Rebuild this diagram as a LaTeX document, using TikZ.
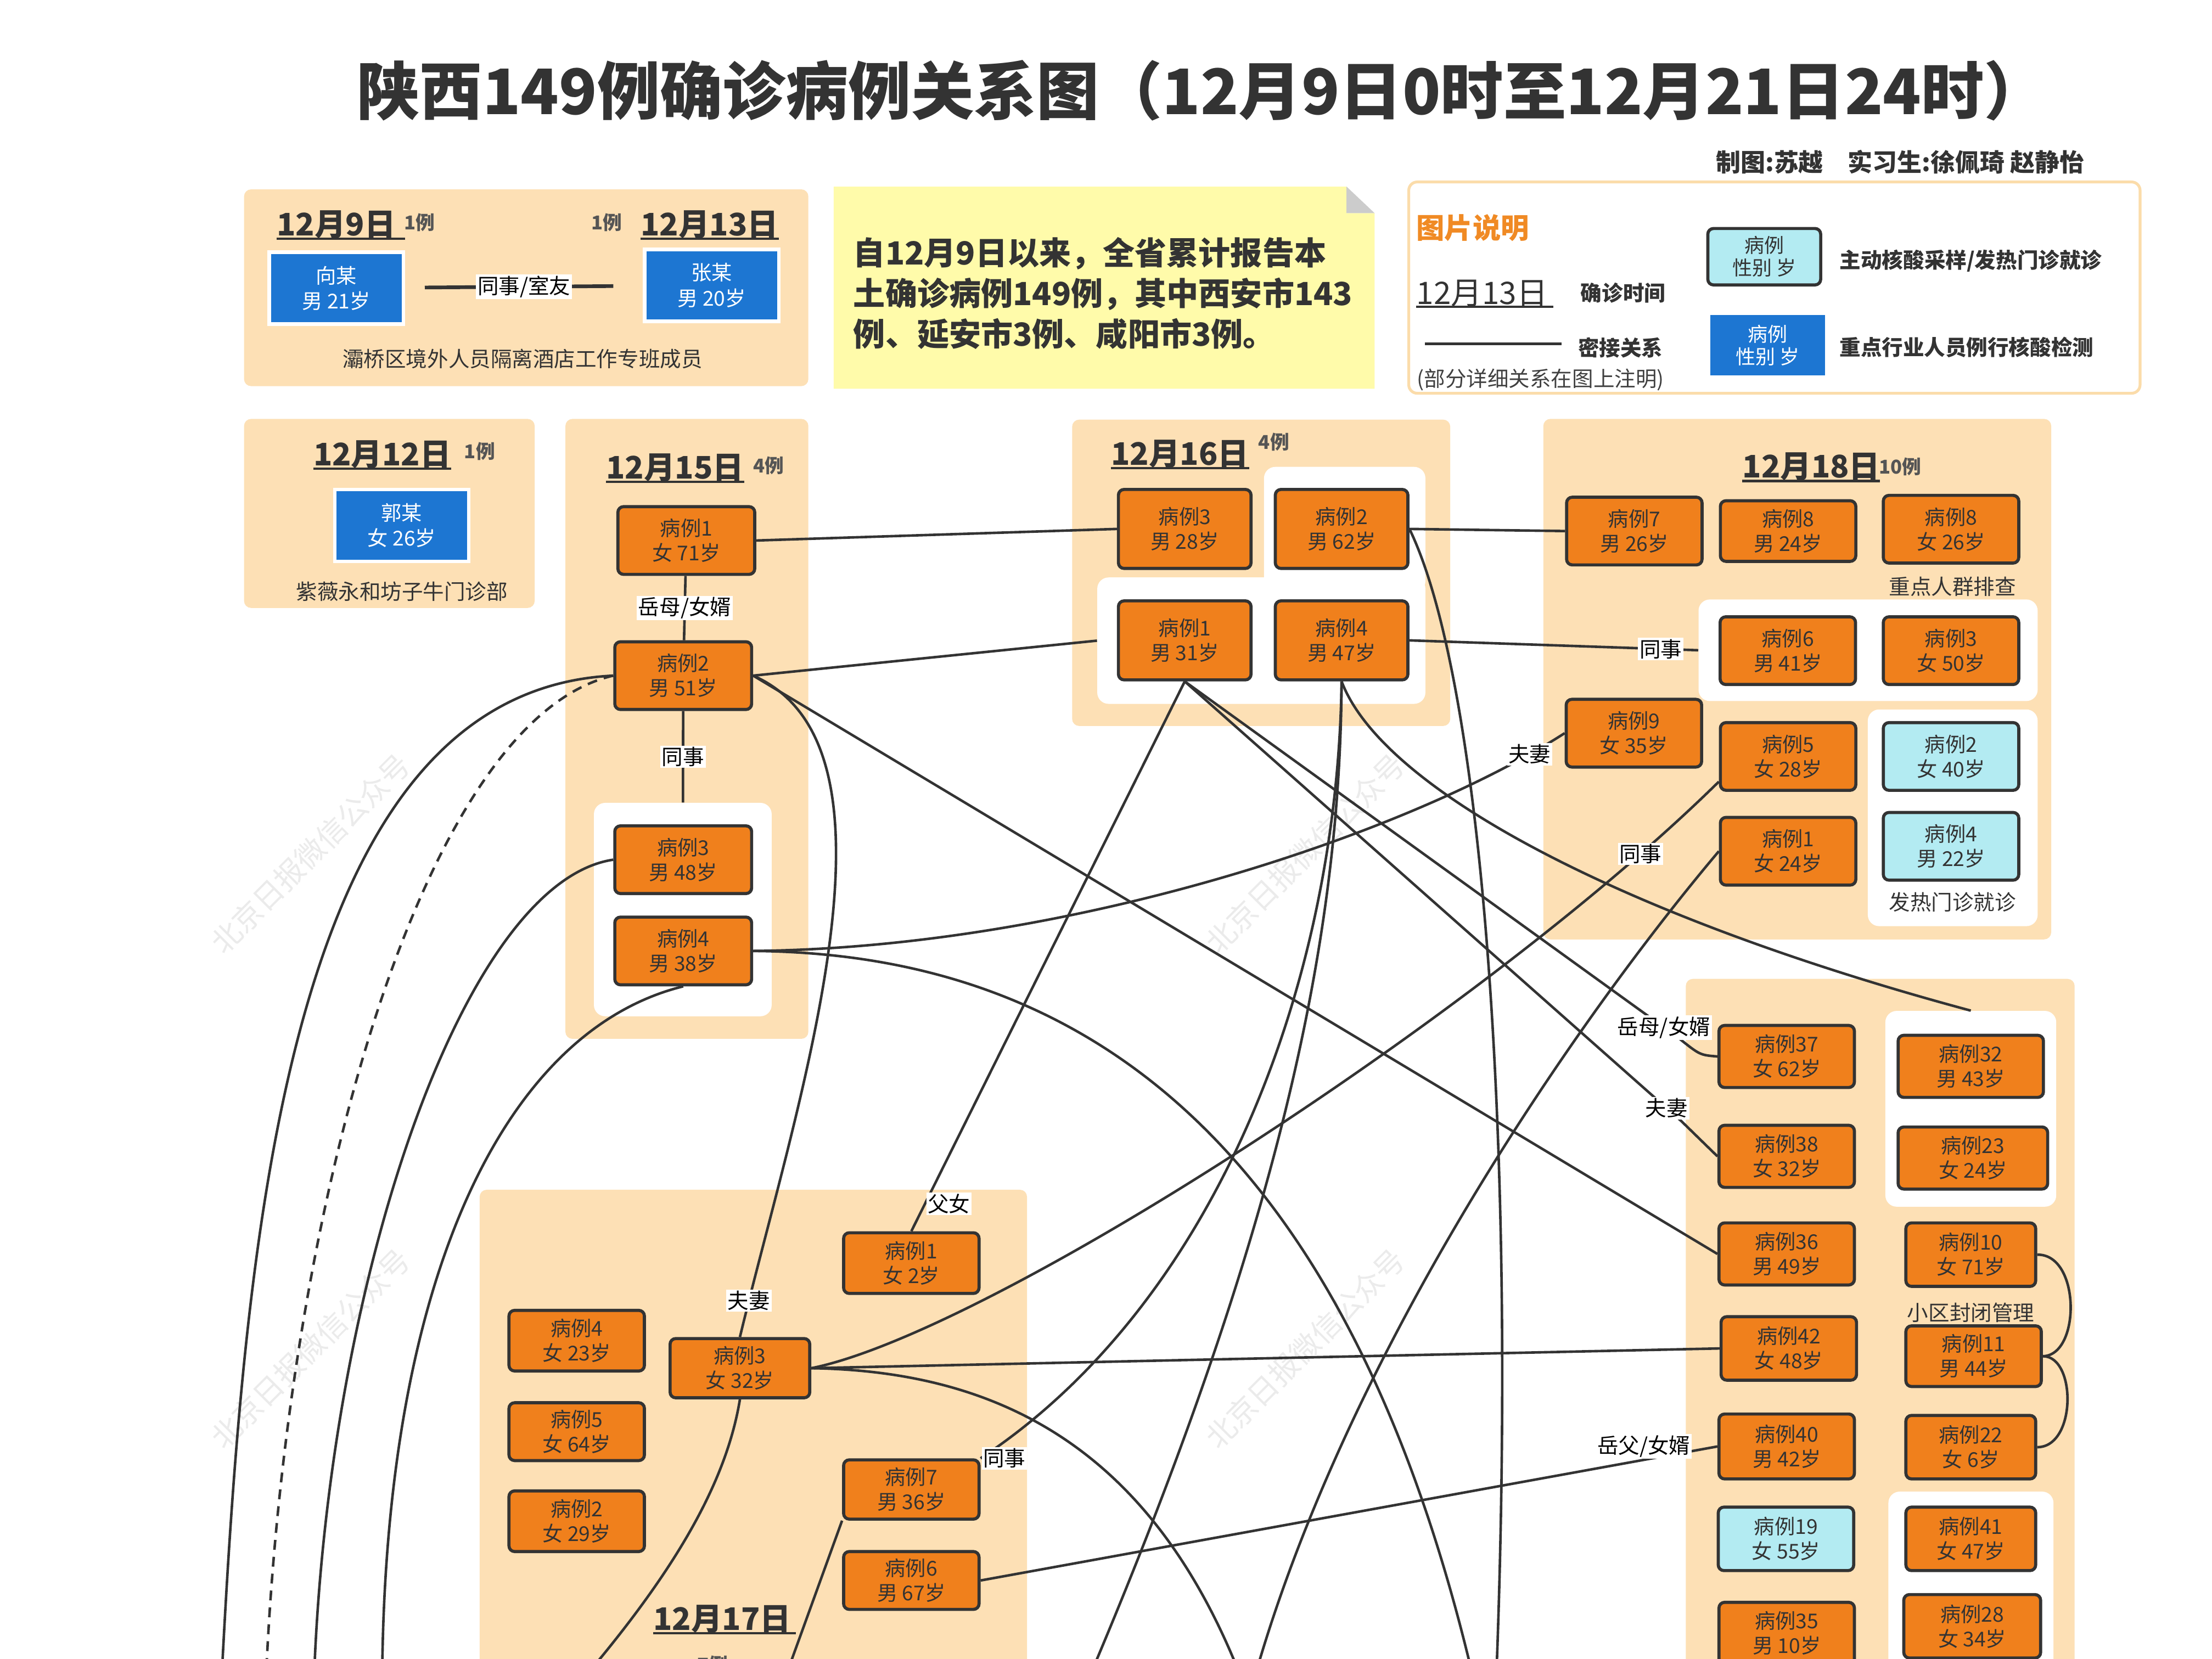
\documentclass[tikz,border=0pt]{standalone}
\usepackage{fontspec}
\setmainfont{Noto Sans CJK SC}
\usepackage{tikz}
\usepackage{xcolor}
\usetikzlibrary{calc}

\definecolor{peach}{HTML}{FDE0B5}
\definecolor{caseor}{HTML}{F0801C}
\definecolor{casecy}{HTML}{B3EBF2}
\definecolor{keyblue}{HTML}{1D76D2}
\definecolor{linec}{HTML}{333333}
\definecolor{notey}{HTML}{FFFBAA}
\definecolor{legendc}{HTML}{FBDCAA}
\definecolor{titleor}{HTML}{F08A24}
\definecolor{foldc}{HTML}{CCCCCC}
\definecolor{countc}{HTML}{555555}

\begin{document}
\begin{tikzpicture}[x=1pt, y=-1pt,
    case/.style={draw=linec, line width=2.2pt, fill=caseor, rounded corners=4pt,
      minimum width=96pt, minimum height=46pt, inner sep=0pt, align=center,
      text=linec, font=\fontsize{14.5}{17.5}\selectfont},
    fever/.style={case, fill=casecy},
    key/.style={draw=white, line width=2.5pt, fill=keyblue, minimum width=95pt,
      minimum height=51pt, inner sep=0pt, align=center, text=white,
      font=\fontsize{14.5}{18}\selectfont},
    group/.style={fill=peach, rounded corners=5pt, inner sep=0pt},
    inner/.style={fill=white, rounded corners=8pt, inner sep=0pt},
    datehd/.style={anchor=south west, inner sep=0pt, text=linec,
      font=\fontsize{22}{22}\selectfont\bfseries},
    uline/.style={line width=1.6pt, draw=linec},
    tally/.style={text=countc, font=\fontsize{13.5}{14}\selectfont\bfseries},
    capt/.style={text=linec, font=\fontsize{15}{15}\selectfont},
    keytxt/.style={text=linec, font=\fontsize{15}{15}\selectfont\bfseries},
    link/.style={draw=linec, line width=1.8pt},
    rel/.style={fill=white, inner sep=1pt, text=black, font=\fontsize{15}{15}\selectfont},
    wmark/.style={text=black!8, rotate=45, font=\fontsize{21}{21}\selectfont}]

    \useasboundingbox (0,0) rectangle (1568,1176);
    \fill[white] (0,0) rectangle (1568,1176);
    \clip (0,0) rectangle (1568,1176);

    \foreach \i/\wx/\wy in {1/220/605,2/925/605,3/220/956,4/925/956}
        \node[wmark] (w\i) at (\wx,\wy) {北京日报微信公众号};

    \node[font=\fontsize{44.5}{50}\selectfont\bfseries, text=linec] (title) at (852,64) {陕西149例确诊病例关系图（12月9日0时至12月21日24时）};
    \node[font=\fontsize{17.5}{17.5}\selectfont\bfseries, text=linec] (credit) at (1347,115) {制图:苏越\quad 实习生:徐佩琦 赵静怡};

    \node[group, minimum width=400, minimum height=139.5] (p913) at (373,204) {};
    \node[group, minimum width=206, minimum height=134] (p12) at (276,364) {};
    \node[group, minimum width=172.2, minimum height=439.5] (p15) at (486.9,516.75) {};
    \node[group, minimum width=268, minimum height=217.2] (p16) at (894,406.1) {};
    \node[group, minimum width=360, minimum height=369] (p18) at (1274,481.5) {};
    \node[group, minimum width=275.6, minimum height=506] (pR) at (1332.8,947) {};
    \node[group, minimum width=388, minimum height=356.5] (p17) at (534,1021.75) {};

    \node[inner, minimum width=126, minimum height=151.3] (g15w) at (484,644.85) {};
    \node[inner, minimum width=114.4, minimum height=89] (g16u) at (953.2,375.5) {};
    \node[inner, minimum width=232.6, minimum height=89.6] (g16w) at (894.1,454.2) {};
    \node[inner, minimum width=240.4, minimum height=72] (g18a) at (1324.2,461) {};
    \node[inner, minimum width=120.4, minimum height=153.6] (g18b) at (1384.2,579.8) {};
    \node[inner, minimum width=121.1, minimum height=138.8] (g1) at (1397,786.1) {};
    \node[inner, minimum width=117, minimum height=142.5] (g2) at (1397.1,1128.75) {};

    \node[datehd] (h9) at (196,169.3) {12月9日};
    \draw[uline] (h9.south west) -- ++(91,0);
    \node[tally] (n9) at (297.4,157.6) {1例};
    \node[datehd] (h13) at (454,169.3) {12月13日};
    \draw[uline] (h13.south west) -- ++(98,0);
    \node[tally] (n13) at (430,157.6) {1例};
    \node[key] (xiang) at (238.4,204.3) {向某\\男 21岁};
    \node[key] (zhang) at (504.5,202.3) {张某\\男 20岁};
    \node[capt] (cap913) at (370.4,254.2) {灞桥区境外人员隔离酒店工作专班成员};

    \node[datehd] (h12) at (222,332.3) {12月12日};
    \draw[uline] (h12.south west) -- ++(98,0);
    \node[tally] (n12) at (340,320) {1例};
    \node[key] (guo) at (284.8,372.5) {郭某\\女 26岁};
    \node[capt] (cap12) at (284.9,419.4) {紫薇永和坊子牛门诊部};

    \fill[notey] (591,132.3) -- (954.5,132.3) -- (954.5,151.1) -- (974.4,151.1) -- (974.4,275.6) -- (591,275.6) -- cycle;
    \fill[foldc] (954.5,132.3) -- (974.4,151.1) -- (954.5,151.1) -- cycle;
    \node[anchor=west, align=left, text=linec, inner sep=0pt,
      font=\fontsize{22.6}{28.8}\selectfont\bfseries] (notetxt) at (604.8,208)
      {自12月9日以来，全省累计报告本\\土确诊病例149例，其中西安市143\\例、延安市3例、咸阳市3例。};

    \draw[draw=legendc, line width=2pt, fill=white, rounded corners=6pt] (998.6,129) rectangle (1517,278.8);
    \node[text=titleor, font=\fontsize{20}{20}\selectfont\bfseries] (legt) at (1044,161.5) {图片说明};
    \node[datehd, font=\fontsize{22}{22}\selectfont] (hk) at (1004,217.6) {12月13日};
    \draw[uline] (hk.south west) -- ++(97,0);
    \node[keytxt] (kt1) at (1150.5,207.5) {确诊时间};
    \coordinate (k1) at (1010,243.8);
    \coordinate (k2) at (1107,243.8);
    \draw[link, line width=2.2pt] (k1) -- (k2);
    \node[keytxt] (kt2) at (1148.7,246.4) {密接关系};
    \node[capt, text=black!75] (kt3) at (1092,269.1) {(部分详细关系在图上注明)};
    \node[fever, minimum width=80, minimum height=40, font=\fontsize{14}{16}\selectfont] (kc) at (1250.6,182) {病例\\性别 岁};
    \node[keytxt] (kt4) at (1397,184.8) {主动核酸采样/发热门诊就诊};
    \node[key, minimum width=82, minimum height=43.5, line width=1pt, font=\fontsize{14}{16}\selectfont] (kb) at (1253,244.7) {病例\\性别 岁};
    \node[keytxt] (kt5) at (1394,246.4) {重点行业人员例行核酸检测};

    \node[datehd] (h15) at (429.5,341.7) {12月15日};
    \draw[uline] (h15.south west) -- ++(98,0);
    \node[tally] (n15) at (544.7,330) {4例};
    \node[case, minimum width=97, minimum height=48] (a1) at (486.5,383.2) {病例1\\女 71岁};
    \node[case, minimum width=97, minimum height=48] (a2) at (484.3,479) {病例2\\男 51岁};
    \node[case, minimum width=97, minimum height=48] (a3) at (484.3,609.5) {病例3\\男 48岁};
    \node[case, minimum width=97, minimum height=48] (a4) at (484.3,674.2) {病例4\\男 38岁};

    \node[datehd] (h16) at (787.4,332) {12月16日};
    \draw[uline] (h16.south west) -- ++(98,0);
    \node[tally] (n16) at (903,313.4) {4例};
    \node[case, minimum width=94, minimum height=56] (b3) at (839.8,375) {病例3\\男 28岁};
    \node[case, minimum width=94, minimum height=56] (b2) at (951,375) {病例2\\男 62岁};
    \node[case, minimum width=94, minimum height=56] (b1) at (839.8,454) {病例1\\男 31岁};
    \node[case, minimum width=94, minimum height=56] (b4) at (951,454) {病例4\\男 47岁};

    \node[datehd] (h18) at (1235,341) {12月18日};
    \draw[uline] (h18.south west) -- ++(97.5,0);
    \node[tally] (n18) at (1347,331) {10例};
    \node[case, minimum height=48] (c7) at (1158.5,376.5) {病例7\\男 26岁};
    \node[case, minimum height=43] (c8m) at (1267.5,376.5) {病例8\\男 24岁};
    \node[case, minimum height=48] (c8f) at (1383,375.2) {病例8\\女 26岁};
    \node[capt] (cap18a) at (1384,416) {重点人群排查};
    \node[case, minimum height=48] (c6) at (1267.3,461.3) {病例6\\男 41岁};
    \node[case, minimum height=48] (c3f) at (1383,461.3) {病例3\\女 50岁};
    \node[case, minimum height=48] (c9) at (1158.2,519.8) {病例9\\女 35岁};
    \node[case, minimum height=48] (c5) at (1267.5,536.3) {病例5\\女 28岁};
    \node[fever, minimum height=48] (c2c) at (1383,536.3) {病例2\\女 40岁};
    \node[case, minimum height=48] (c1f) at (1267.5,603.5) {病例1\\女 24岁};
    \node[fever, minimum height=48] (c4c) at (1383,600) {病例4\\男 22岁};
    \node[capt] (cap18b) at (1384,639.6) {发热门诊就诊};

    \node[case, minimum height=44] (r37) at (1266.5,749) {病例37\\女 62岁};
    \node[case, minimum height=44] (r38) at (1266.5,819.8) {病例38\\女 32岁};
    \node[case, minimum height=44] (r36) at (1266.5,889) {病例36\\男 49岁};
    \node[case, minimum height=45] (r42) at (1268,956) {病例42\\女 48岁};
    \node[case, minimum height=46] (r40) at (1266.5,1025.5) {病例40\\男 42岁};
    \node[fever, minimum height=45] (r19) at (1266,1091) {病例19\\女 55岁};
    \node[case, minimum height=44] (r35) at (1266.5,1158) {病例35\\男 10岁};
    \node[case, minimum width=103, minimum height=44] (r32) at (1397,756) {病例32\\男 43岁};
    \node[case, minimum width=106, minimum height=44] (r23) at (1398.5,821) {病例23\\女 24岁};
    \node[case, minimum width=92, minimum height=45] (r10) at (1397,889.5) {病例10\\女 71岁};
    \node[capt] (capR) at (1397,930.6) {小区封闭管理};
    \node[case, minimum width=96, minimum height=43] (r11) at (1399,961.5) {病例11\\男 44岁};
    \node[case, minimum width=92, minimum height=45] (r22) at (1397,1026) {病例22\\女 6岁};
    \node[case, minimum width=92, minimum height=45] (r41) at (1397,1091) {病例41\\女 47岁};
    \node[case, minimum width=97, minimum height=45] (r28) at (1398,1153) {病例28\\女 34岁};

    \node[case, minimum height=43] (s1) at (646,895.5) {病例1\\女 2岁};
    \node[case, minimum height=43] (s4) at (408.8,950.5) {病例4\\女 23岁};
    \node[case, minimum width=99, minimum height=42] (s3) at (524.5,970) {病例3\\女 32岁};
    \node[case, minimum height=41] (s5) at (408.8,1015) {病例5\\女 64岁};
    \node[case, minimum height=43] (s2) at (408.8,1078.5) {病例2\\女 29岁};
    \node[case, minimum height=42] (s7) at (646,1056) {病例7\\男 36岁};
    \node[case, minimum height=41] (s6) at (646,1120.5) {病例6\\男 67岁};
    \node[datehd] (h17) at (463,1158) {12月17日};
    \draw[uline] (h17.south west) -- ++(101,0);
    \node[tally] (n17) at (505,1180) {7例};

    \coordinate (o1) at (157.6,1180);
    \coordinate (o2) at (189,1180);
    \coordinate (o3) at (223,1180);
    \coordinate (o4) at (271,1180);
    \coordinate (o5) at (1042,1180);
    \coordinate (o6) at (776,1180);
    \coordinate (o7) at (1061,1180);
    \coordinate (o8) at (876,1180);
    \coordinate (o9) at (422,1180);
    \coordinate (o10) at (560,1180);
    \coordinate (o11) at (892,1180);
    \coordinate (t37) at (1190,736);
    \coordinate (t38) at (1192,795);

    \draw[link, line width=2.6pt, shorten <=14pt, shorten >=21pt] (xiang) -- node[rel] (lbx) {同事/室友} (zhang);
    \draw[link] (a1.east) -- (b3.west);
    \draw[link] (a1) -- node[rel] (lb1) {岳母/女婿} (a2);
    \draw[link] (a2) -- node[rel] (lb2) {同事} (g15w);
    \draw[link] (a2.east) -- (g16w.west);
    \draw[link] (a2.east) -- (r36.west);
    \draw[link] (a2.east) .. controls (650,530) and (565,780) .. node[rel, pos=0.95] (lb3) {夫妻} (s3.north);
    \draw[link] (a2.west) .. controls (210,490) and (175,850) .. (o1);
    \draw[link, dash pattern=on 7pt off 5pt] (a2.west) .. controls (300,510) and (205,850) .. (o2);
    \draw[link] (a3.west) .. controls (330,625) and (235,900) .. (o3);
    \draw[link] (a4.south) .. controls (360,730) and (275,900) .. (o4);
    \draw[link] (a4.east) .. controls (760,672) and (1000,590) .. node[rel, pos=0.93] (lb4) {夫妻} (c9.west);
    \draw[link] (a4.east) .. controls (760,676) and (950,800) .. (o5);
    \draw[link] (b1.south) -- node[rel, pos=0.95, anchor=west] (lb5) {父女} (s1.north);
    \draw[link] (b1.south) -- node[rel, pos=0.97] (lb6) {岳母/女婿} (t37) .. controls (1205,748) .. (r37.west);
    \draw[link] (b1.south) -- node[rel, pos=0.97] (lb7) {夫妻} (t38) -- (r38.west);
    \draw[link] (b4.south) .. controls (980,560) and (1150,650) .. (g1.north);
    \draw[link] (b4.south) .. controls (948,700) and (860,925) .. node[rel, pos=1, anchor=west] (lb8) {同事} (s7.north east);
    \draw[link] (b4.south) .. controls (950,650) and (915,850) .. (o6);
    \draw[link] (b2.east) -- (c7.west);
    \draw[link] (b2.east) .. controls (1050,480) and (1075,800) .. (o7);
    \draw[link] (b4.east) -- node[rel, pos=0.87] (lb9) {同事} (g18a.west);
    \draw[link] (s3.east) .. controls (700,945) and (1050,720) .. node[rel, pos=0.9] (lb10) {同事} (c5.200);
    \draw[link] (s3.east) -- (r42.west);
    \draw[link] (s3.east) .. controls (700,972) and (810,1020) .. (o8);
    \draw[link] (s3.south) .. controls (515,1050) and (480,1110) .. (o9);
    \draw[link] (s7.south west) -- (o10);
    \draw[link] (s6.east) -- node[rel, pos=0.9, anchor=south] (lb11) {岳父/女婿} (r40.west);
    \draw[link] (c1f.west) .. controls (1120,720) and (960,950) .. (o11);
    \draw[link] (r10.east) .. controls (1475,889) and (1475,961) .. (r11.east);
    \draw[link] (r11.east) .. controls (1472,961.5) and (1472,1026) .. (r22.east);
\end{tikzpicture}
\end{document}
